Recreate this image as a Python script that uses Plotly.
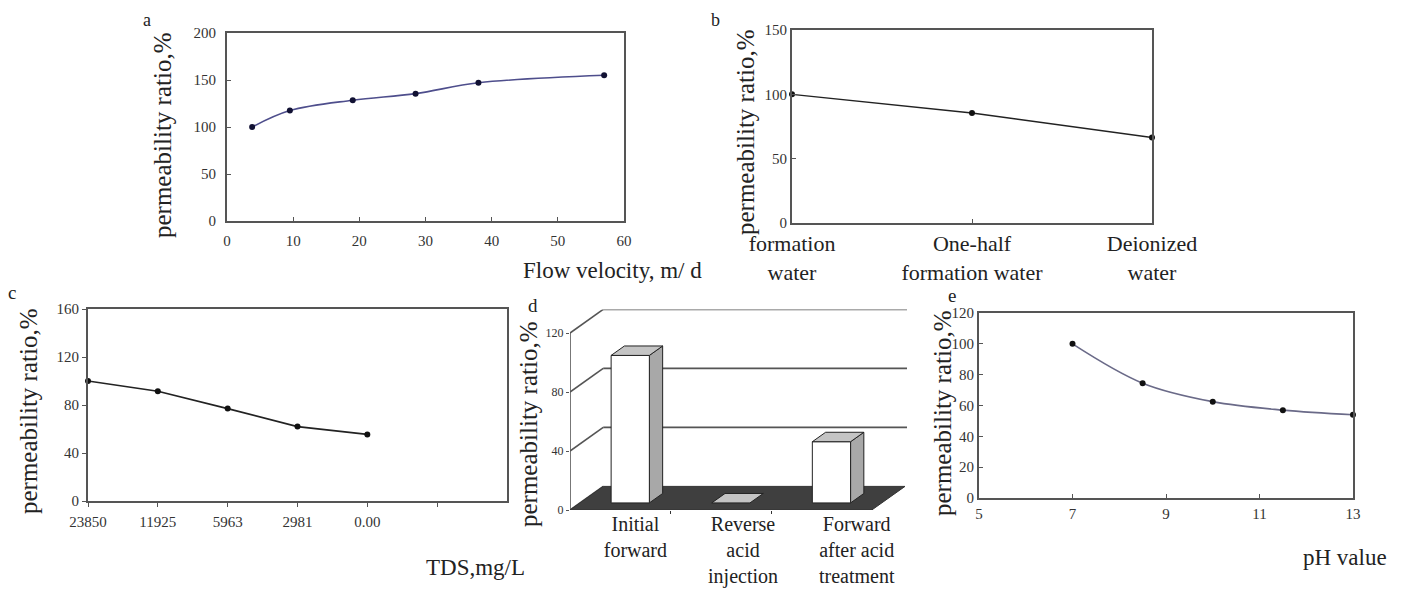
import plotly.graph_objects as go

# Reference canvas size; the page adds an 8px body margin, so the figure is
# made 8px smaller and every reference pixel position is shifted by OFF.
REF_W, REF_H = 1408, 590
OFF = 8
W, H = REF_W - OFF, REF_H - OFF
FONT = "Liberation Serif, Times New Roman, serif"

# ---------------- data ----------------
a_velocity = [3.8, 9.5, 19, 28.5, 38, 57]
a_ratio = [100, 117.5, 128.5, 135.5, 147, 155]

b_water = ["formation<br>water", "One-half<br>formation water", "Deionized<br>water"]
b_ratio = [100, 85.5, 66.5]

c_tds = ["23850", "11925", "5963", "2981", "0.00"]
c_ratio = [100, 91.5, 77, 62, 55.5]

d_stage = ["Initial<br>forward", "Reverse<br>acid<br>injection", "Forward<br>after acid<br>treatment"]
d_ratio = [100, 0, 41.5]

e_ph = [7, 8.5, 10, 11.5, 13]
e_ratio = [100, 74.5, 62.5, 57, 54]


def fx(px):
    return (px - OFF) / W


def fy(py):
    return 1 - (py - OFF) / H


def px_dom(p0, p1):
    return [fx(p0), fx(p1)]


def py_dom(top, bottom):
    return [fy(bottom), fy(top)]


fig = go.Figure()

AX = dict(showline=True, linecolor="#555555", linewidth=2, mirror=True,
          showgrid=False, zeroline=False, ticklen=4, tickcolor="#555555",
          tickfont=dict(family=FONT, size=15, color="#333333"))

# ---- panel a ----
fig.add_trace(go.Scatter(x=a_velocity, y=a_ratio, mode="lines+markers",
                         line=dict(color="#4e4e8c", width=1.6, shape="spline"),
                         marker=dict(color="#111133", size=6),
                         xaxis="x", yaxis="y", showlegend=False, cliponaxis=False))
# ---- panel b ----
fig.add_trace(go.Scatter(x=[0, 1, 2], y=b_ratio, mode="lines+markers",
                         line=dict(color="#222222", width=1.4),
                         marker=dict(color="#111111", size=6),
                         xaxis="x2", yaxis="y2", showlegend=False, cliponaxis=False))
# ---- panel c ----
fig.add_trace(go.Scatter(x=list(range(len(c_tds))), y=c_ratio, mode="lines+markers",
                         line=dict(color="#222222", width=1.6),
                         marker=dict(color="#111111", size=6),
                         xaxis="x3", yaxis="y3", showlegend=False, cliponaxis=False))
# ---- panel e ----
fig.add_trace(go.Scatter(x=e_ph, y=e_ratio, mode="lines+markers",
                         line=dict(color="#6a6a88", width=1.6, shape="spline"),
                         marker=dict(color="#111111", size=6),
                         xaxis="x5", yaxis="y5", showlegend=False, cliponaxis=False))

# ---- panel d : pseudo-3D bars in oblique projection ----
DX, DV = 0.33, 16.0
D0, D1 = 0.3, 0.7
HALF = 0.19


def proj(x, v, d):
    return x + DX * d, v + DV * d


def poly(pts, fill, line="#222222", lw=1):
    xs = [p[0] for p in pts] + [pts[0][0]]
    ys = [p[1] for p in pts] + [pts[0][1]]
    fig.add_trace(go.Scatter(x=xs, y=ys, mode="lines", fill="toself",
                             fillcolor=fill, line=dict(color=line, width=lw),
                             xaxis="x4", yaxis="y4", showlegend=False,
                             hoverinfo="skip"))


def seg(p, q, color="#555555", lw=1.6):
    fig.add_trace(go.Scatter(x=[p[0], q[0]], y=[p[1], q[1]], mode="lines",
                             line=dict(color=color, width=lw),
                             xaxis="x4", yaxis="y4", showlegend=False,
                             hoverinfo="skip"))


n = len(d_stage)
XEND = n + 0.35
d_grid = [0, 40, 80, 120]
seg((0, 0), (0, d_grid[-1]))
for g in d_grid:
    seg(proj(0, g, 0), proj(0, g, 1))
    if g > 0:
        seg(proj(0, g, 1), (XEND, g + DV))
poly([proj(0, 0, 0), proj(n, 0, 0), proj(n, 0, 1), proj(0, 0, 1)], "#3f3f3f", "#333333")
for i, v in enumerate(d_ratio):
    c = i + 0.5
    x0, x1 = c - HALF, c + HALF
    if v > 0:
        poly([proj(x1, 0, D0), proj(x1, 0, D1), proj(x1, v, D1), proj(x1, v, D0)], "#a8a8a8")
        poly([proj(x0, 0, D0), proj(x1, 0, D0), proj(x1, v, D0), proj(x0, v, D0)], "#ffffff")
    poly([proj(x0, v, D0), proj(x1, v, D0), proj(x1, v, D1), proj(x0, v, D1)], "#c4c4c4")

# ---------------- layout ----------------
layout = dict(
    width=W, height=H, margin=dict(l=0, r=0, t=0, b=0, autoexpand=False),
    paper_bgcolor="white", plot_bgcolor="rgba(0,0,0,0)",
    font=dict(family=FONT, color="#222222"),
    showlegend=False,
)

layout["xaxis"] = dict(AX, domain=px_dom(227, 624), range=[0, 60], dtick=10, tick0=0,
                       ticks="inside", ticklabelstandoff=5, anchor="y")
layout["yaxis"] = dict(AX, domain=py_dom(33, 221), range=[0, 200], dtick=50,
                       ticks="inside", ticklabelstandoff=6, anchor="x")

layout["xaxis2"] = dict(AX, domain=px_dom(792, 1152), range=[0, 2],
                        tickvals=[0, 1, 2], ticktext=b_water, ticks="inside",
                        tickfont=dict(family=FONT, size=22, color="#222222"),
                        ticklabelstandoff=0, anchor="y2")
layout["yaxis2"] = dict(AX, domain=py_dom(30, 223), range=[0, 150], dtick=50,
                        ticks="inside", ticklabelstandoff=0, anchor="x2")

layout["xaxis3"] = dict(AX, domain=px_dom(88, 507), range=[0, 6],
                        tickvals=list(range(len(c_tds) + 1)), ticktext=c_tds + [""],
                        ticks="outside", ticklabelstandoff=2, anchor="y3")
layout["yaxis3"] = dict(AX, domain=py_dom(309, 501), range=[0, 160], dtick=40,
                        ticks="outside", ticklabelstandoff=0, anchor="x3")

layout["xaxis4"] = dict(domain=px_dom(570, 907), range=[0, XEND], showline=False,
                        showgrid=False, zeroline=False,
                        tickvals=[0.65, 1.72, 2.85], ticktext=d_stage, ticks="",
                        tickfont=dict(family=FONT, size=20, color="#222222"),
                        minor=dict(tickvals=[1, 2], ticks="outside", ticklen=3,
                                   tickcolor="#333333"),
                        ticklabelstandoff=0, anchor="y4")
layout["yaxis4"] = dict(domain=py_dom(309.4, 510), range=[0, 136], showline=False,
                        showgrid=False, zeroline=False, tickvals=d_grid,
                        ticks="outside", ticklen=3, tickcolor="#555555",
                        tickfont=dict(family=FONT, size=12, color="#333333"),
                        anchor="x4")

layout["xaxis5"] = dict(AX, domain=px_dom(979, 1353), range=[5, 13], dtick=2, tick0=5,
                        ticks="inside", ticklabelstandoff=1, anchor="y5")
layout["yaxis5"] = dict(AX, domain=py_dom(313, 498), range=[0, 120], dtick=20,
                        ticks="inside", ticklabelstandoff=0, anchor="x5")

fig.update_layout(**layout)


def ann(text, x, y, size=22, angle=0, xanchor="center", yanchor="middle"):
    fig.add_annotation(text=text, x=fx(x), y=fy(y), xref="paper", yref="paper",
                       showarrow=False, textangle=angle, xanchor=xanchor,
                       yanchor=yanchor, font=dict(family=FONT, size=size, color="#222222"))


ylab = "permeability ratio,%"
ann(ylab, 162, 136, size=25, angle=-90)
ann(ylab, 745, 133, size=25, angle=-90)
ann(ylab, 28, 412, size=25, angle=-90)
ann(ylab, 528, 425, size=25, angle=-90)
ann(ylab, 942, 414, size=25, angle=-90)

ann("Flow velocity, m/ d", 612, 271, size=23)
ann("TDS,mg/L", 475, 567, size=23)
ann("pH value", 1345, 557, size=23)

ann("a", 147, 8.5, size=18, yanchor="top")
ann("b", 716, 8.5, size=18, yanchor="top")
ann("c", 12, 292, size=19)
ann("d", 533, 305, size=19)
ann("e", 952, 295, size=19)

fig.write_html("out.html")
